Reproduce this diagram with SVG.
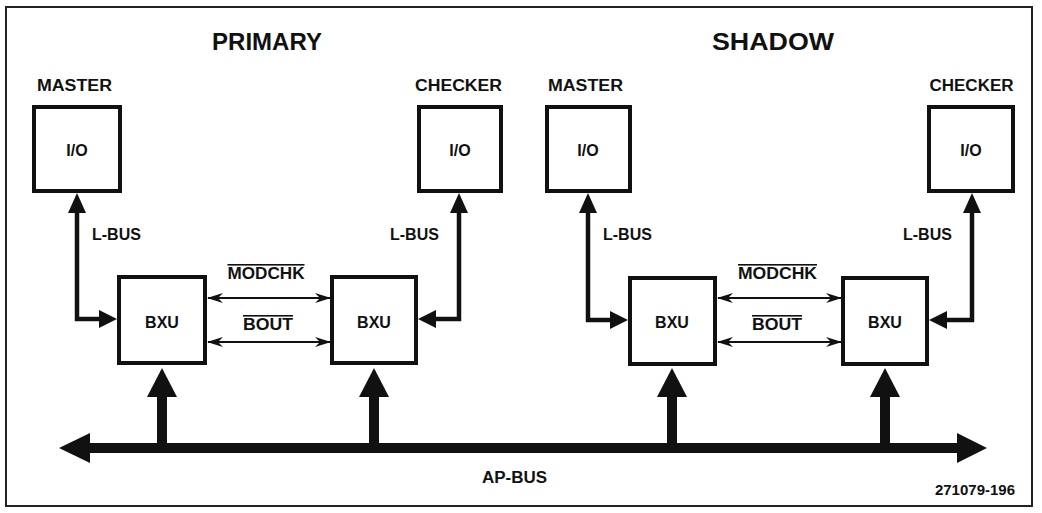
<svg xmlns="http://www.w3.org/2000/svg" width="1042" height="513" viewBox="0 0 1042 513">
<defs>
<style>
text{font-family:"Liberation Sans",Arial,sans-serif;font-weight:bold;fill:#111}
.title{font-size:24px;text-anchor:middle}
.lbl{font-size:16px}
.mid{text-anchor:middle}
.box{fill:#fff;stroke:#111;stroke-width:4}
.lbus{fill:none;stroke:#111;stroke-width:4.5}
.thin{fill:none;stroke:#111;stroke-width:1.8;marker-start:url(#barb);marker-end:url(#barb)}
.thick{fill:none;stroke:#111;stroke-width:10}
.head{fill:#111}
.ov{text-decoration:overline}
</style>
<marker id="barb" viewBox="0 0 16 10" refX="15" refY="5" markerWidth="16" markerHeight="10" markerUnits="userSpaceOnUse" orient="auto-start-reverse">
<path d="M0,0 L16,5 L0,10 L5,5 z" fill="#111"/>
</marker>
</defs>
<rect x="0" y="0" width="1042" height="513" fill="#fff"/>
<rect x="6" y="7" width="1026" height="499" fill="none" stroke="#222" stroke-width="2"/>

<text class="title" x="267" y="50">PRIMARY</text>
<text class="title" x="773" y="50" textLength="122" lengthAdjust="spacingAndGlyphs">SHADOW</text>

<g id="p-master-io">
<text class="lbl mid" x="74.5" y="91" textLength="75" lengthAdjust="spacingAndGlyphs">MASTER</text>
<rect class="box" x="34" y="107" width="86" height="84"/>
<text class="lbl mid" x="77" y="156">I/O</text>
</g>
<g id="p-checker-io">
<text class="lbl mid" x="458.5" y="91" textLength="87" lengthAdjust="spacingAndGlyphs">CHECKER</text>
<rect class="box" x="419" y="107" width="82" height="84"/>
<text class="lbl mid" x="460" y="156">I/O</text>
</g>
<g id="p-master-bxu">
<rect class="box" x="119" y="277" width="86" height="86"/>
<text class="lbl mid" x="162" y="328">BXU</text>
</g>
<g id="p-checker-bxu">
<rect class="box" x="332" y="277" width="84" height="86"/>
<text class="lbl mid" x="374" y="328">BXU</text>
</g>

<g id="s-master-io">
<text class="lbl mid" x="585.5" y="91" textLength="75" lengthAdjust="spacingAndGlyphs">MASTER</text>
<rect class="box" x="547" y="107" width="83" height="84"/>
<text class="lbl mid" x="588" y="156">I/O</text>
</g>
<g id="s-checker-io">
<text class="lbl mid" x="971.5" y="91" textLength="84" lengthAdjust="spacingAndGlyphs">CHECKER</text>
<rect class="box" x="929" y="107" width="84" height="84"/>
<text class="lbl mid" x="971" y="156">I/O</text>
</g>
<g id="s-master-bxu">
<rect class="box" x="630" y="278" width="85" height="86"/>
<text class="lbl mid" x="672" y="328">BXU</text>
</g>
<g id="s-checker-bxu">
<rect class="box" x="843" y="278" width="84" height="86"/>
<text class="lbl mid" x="885" y="328">BXU</text>
</g>

<g id="connectors">
<!-- primary L-BUS -->
<path class="lbus" d="M77 211 V319 H101"/>
<polygon class="head" points="77,193 68,213 86,213"/>
<polygon class="head" points="117,319 99,310 99,328"/>
<text class="lbl" x="92" y="240">L-BUS</text>
<path class="lbus" d="M459 211 V319 H434"/>
<polygon class="head" points="459,193 450,213 468,213"/>
<polygon class="head" points="418,319 436,310 436,328"/>
<text class="lbl" x="390" y="240">L-BUS</text>
<!-- shadow L-BUS -->
<path class="lbus" d="M588 211 V320 H612"/>
<polygon class="head" points="588,193 579,213 597,213"/>
<polygon class="head" points="628,320 610,311 610,329"/>
<text class="lbl" x="603" y="240">L-BUS</text>
<path class="lbus" d="M972 211 V320 H945"/>
<polygon class="head" points="972,193 963,213 981,213"/>
<polygon class="head" points="929,320 947,311 947,329"/>
<text class="lbl" x="903" y="240">L-BUS</text>

<!-- MODCHK / BOUT -->
<path class="thin" d="M208 298 H330"/>
<path class="thin" d="M208 342 H330"/>
<text class="lbl mid ov" x="266" y="279" textLength="77" lengthAdjust="spacingAndGlyphs">MODCHK</text>
<text class="lbl mid ov" x="268" y="330" textLength="50" lengthAdjust="spacingAndGlyphs">BOUT</text>
<path class="thin" d="M718 298 H841"/>
<path class="thin" d="M718 342 H841"/>
<text class="lbl mid ov" x="777.5" y="279" textLength="79" lengthAdjust="spacingAndGlyphs">MODCHK</text>
<text class="lbl mid ov" x="777" y="330" textLength="50" lengthAdjust="spacingAndGlyphs">BOUT</text>

<!-- AP-BUS taps -->
<path class="thick" d="M162 395 V448"/>
<polygon class="head" points="162,368 147,397 177,397"/>
<path class="thick" d="M374 395 V448"/>
<polygon class="head" points="374,368 359,397 389,397"/>
<path class="thick" d="M672 395 V448"/>
<polygon class="head" points="672,368 657,397 687,397"/>
<path class="thick" d="M885 395 V448"/>
<polygon class="head" points="885,368 870,397 900,397"/>

<!-- AP-BUS -->
<path class="thick" d="M88 448 H959"/>
<polygon class="head" points="59,448 90,433 90,463"/>
<polygon class="head" points="987,448 957,433 957,463"/>
<text class="lbl" x="482" y="483" textLength="65" lengthAdjust="spacingAndGlyphs">AP-BUS</text>
</g>

<text x="1015" y="495" style="font-size:15px;text-anchor:end">271079-196</text>
</svg>
